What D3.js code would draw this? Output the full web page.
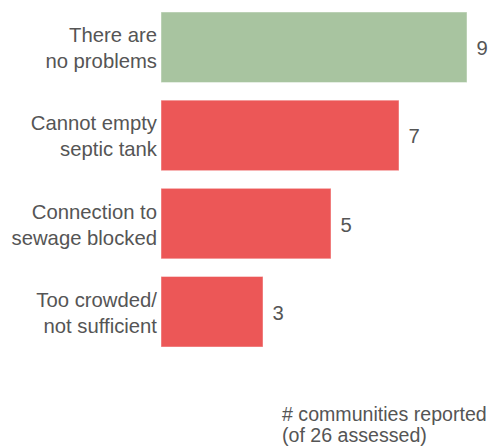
<!DOCTYPE html>
<html>
<head>
<meta charset="utf-8">
<script src="https://cdn.jsdelivr.net/npm/d3@7"></script>
<style>
  html, body { margin: 0; padding: 0; background: #fff; }
  svg { display: block; font-family: "Liberation Sans", Arial, sans-serif; }
</style>
</head>
<body>
<svg id="chart" width="491" height="447"></svg>
<script>
const categories = ["There are no problems", "Cannot empty septic tank", "Connection to sewage blocked", "Too crowded/ not sufficient"];
const labelLines = [["There are", "no problems"], ["Cannot empty", "septic tank"], ["Connection to", "sewage blocked"], ["Too crowded/", "not sufficient"]];
const values = [9, 7, 5, 3];
const barColors = ["#a8c4a0", "#ec5757", "#ec5757", "#ec5757"];
const footnote = ["# communities reported", "(of 26 assessed)"];

const svg = d3.select("#chart");
const x = d3.scaleLinear().domain([0, 9]).range([161, 467]);
const y = d3.scaleBand().domain(categories).range([12, 347]).paddingInner(0.2).paddingOuter(0);

const data = categories.map((c, i) => ({ c, v: values[i], lines: labelLines[i], color: barColors[i] }));

svg.selectAll("rect.bar").data(data).enter().append("rect")
  .attr("class", "bar")
  .attr("x", x(0))
  .attr("y", d => y(d.c))
  .attr("width", d => x(d.v) - x(0))
  .attr("height", y.bandwidth())
  .attr("fill", d => d.color)
  .attr("stroke", "#fff")
  .attr("stroke-opacity", 0.45)
  .attr("stroke-width", 1);

const lab = svg.selectAll("text.cat").data(data).enter().append("text")
  .attr("class", "cat")
  .attr("text-anchor", "end")
  .attr("fill", "#555")
  .attr("font-size", 20.3);
lab.each(function(d) {
  const cy = y(d.c) + y.bandwidth() / 2;
  d3.select(this).selectAll("tspan").data(d.lines).enter().append("tspan")
    .attr("x", 157)
    .attr("y", (l, i) => cy - 5 + i * 26)
    .text(l => l);
});

svg.selectAll("text.val").data(data).enter().append("text")
  .attr("class", "val")
  .attr("x", d => x(d.v) + 9.5)
  .attr("y", d => y(d.c) + y.bandwidth() / 2 + 8)
  .attr("fill", "#555")
  .attr("font-size", 20.3)
  .text(d => d.v);

svg.append("text")
  .attr("fill", "#555")
  .attr("font-size", 19.6)
  .selectAll("tspan").data(footnote).enter().append("tspan")
  .attr("x", 282)
  .attr("y", (l, i) => 421 + i * 21)
  .text(l => l);
</script>
</body>
</html>
